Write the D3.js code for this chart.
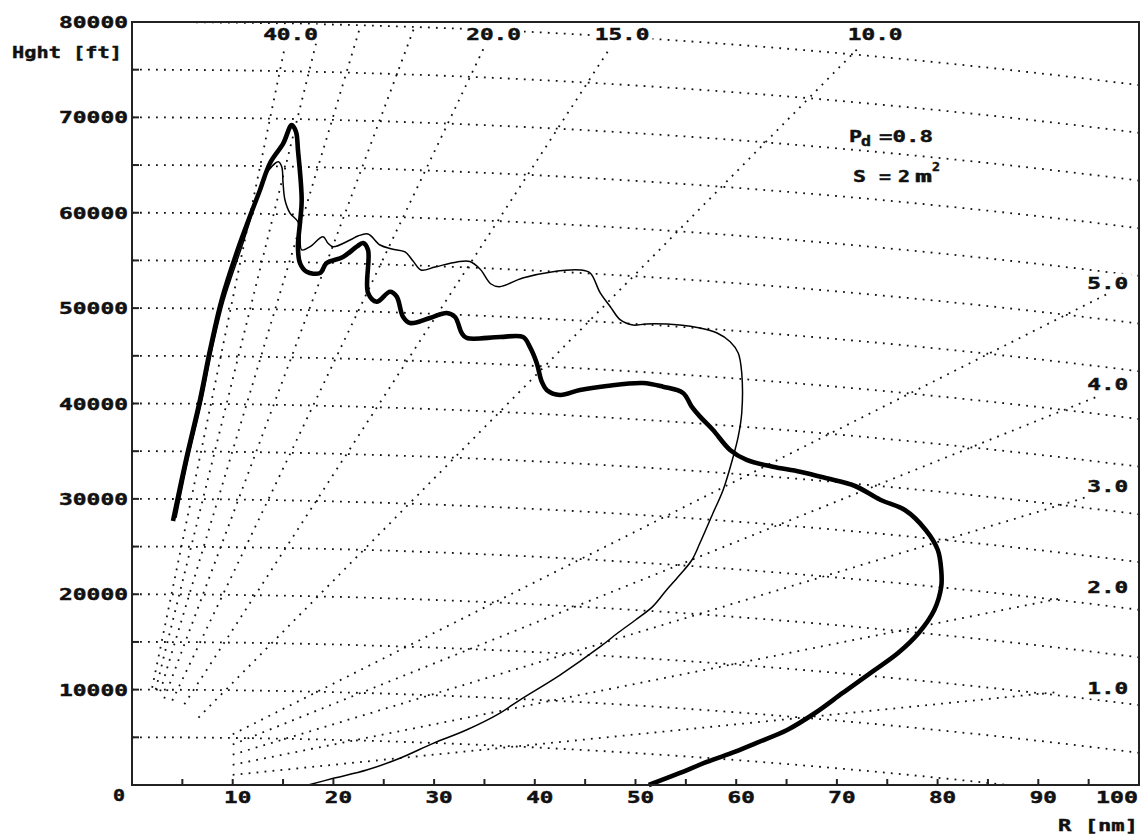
<!DOCTYPE html>
<html>
<head>
<meta charset="utf-8">
<script src="https://cdn.jsdelivr.net/npm/d3@7"></script>
<style>
  body { margin: 0; background: #fff; }
  text { font-family: "DejaVu Sans Mono", monospace; font-weight: bold; fill: #111; stroke: #111; stroke-width: 0.45px; }
</style>
</head>
<body>
<div id="chart"></div>
<script>
// axis tick labels
const xTickLabels = [10, 20, 30, 40, 50, 60, 70, 80, 90, 100];
const yTickLabels = [10000, 20000, 30000, 40000, 50000, 60000, 70000, 80000];

// constant height grid lines [ft]
const heightLevels = [5000, 10000, 15000, 20000, 25000, 30000, 35000, 40000,
    45000, 50000, 55000, 60000, 65000, 70000, 75000, 80000];

// elevation lines [deg], steep ones run to the top edge
const steepAngles = [40, 35, 30, 25, 20, 15, 10];
const steepStartR = [2.0, 2.35, 2.8, 3.2, 4.0, 5.2, 6.6];
const steepEndH = [77300, 79500, 79500, 79500, 77300, 77300, 77300];
const topLabelAngles = [40, 20, 15, 10];

// low elevation lines, labelled at the right edge
const lowAngles = [1, 2, 3, 4, 5];
const lowStartR = 10;
const lowEndR = [92, 92, 95, 96, 97];

// detection range curves: range [nm], height [ft]
const thickR = [4.07, 5.36, 6.75, 7.75, 8.9, 10.72, 12.71, 13.7, 15.02, 15.86, 16.29, 16.48, 16.85, 16.68,
    16.48, 16.68, 17.35, 18.67, 19.33, 20.95, 22.31, 22.94, 23.44, 23.44, 24.3, 25.62, 26.29, 26.91,
    27.61, 29.59, 31.25, 32.08, 32.74, 33.24, 36.54, 38.83, 39.52, 40.19, 40.69, 41.18, 42.5, 44.49,
    47.14, 50.74, 52.73, 54.72, 55.58, 56.41, 57.7, 59.39, 61.04, 63.65, 66.34, 68.99, 71.8, 74.35,
    76.75, 78.82, 80.02, 80.36, 80.36, 79.67, 78.12, 76.07, 73.32, 70.57, 67.83, 65.06, 61.97, 59.57,
    56.82, 54.42, 51.32];
const thickH = [27680, 34080, 40370, 45610, 50850, 56800, 62390, 65190, 67280, 69200, 68470, 66580, 61340, 58930,
    56410, 54730, 53820, 53680, 54730, 55360, 56440, 56830, 56100, 51590, 50670, 51720, 51200, 49100,
    48440, 48970, 49490, 49070, 47390, 46870, 46970, 46970, 45920, 44250, 42290, 41420, 40890, 41420,
    41840, 42150, 41760, 41100, 39670, 38620, 37220, 35130, 34080, 33370, 32850, 32160, 31350, 29880,
    28830, 26740, 24640, 22540, 20790, 18350, 15940, 13840, 11740, 9650, 7550, 5770, 4400, 3360,
    2310, 1260, 0];

const thinR = [17.5, 20.0, 23.3, 26.6, 29.9, 33.2, 36.5, 38.5, 42.5, 46.5, 48.2, 50.0, 51.7, 53.0, 54.3,
    55.6, 56.4, 57.7, 58.7, 59.7, 60.2, 60.55, 60.55, 60.2, 59.4, 58.1, 56.4, 54.4, 51.1, 49.75, 48.5,
    47.5, 46.5, 45.5, 44.5, 41.8, 38.8, 36.5, 35.65, 34.56, 33.56, 32.27, 30.09, 28.7, 27.91, 27.11,
    25.82, 24.63, 23.44, 22.44, 21.65, 19.96, 19.46, 18.97, 17.68, 16.85, 16.68, 16.48, 15.69, 15.19,
    15.0, 14.87, 14.53, 13.38, 12.91, 11.02, 9.14, 7.94, 6.95, 5.56, 4.37];
const thinH = [0, 700, 1570, 2800, 4370, 5770, 7520, 8910, 11530, 14500, 15910, 17300, 18700, 20340, 21910,
    23590, 25370, 28520, 30930, 34420, 36520, 39000, 43200, 45300, 46480, 47390, 47920, 48230, 48340, 48230, 48760,
    50150, 51590, 53680, 54000, 53820, 53160, 52250, 52530, 54100, 54890, 54840, 54310, 54000, 54940, 55890,
    56200, 56620, 57770, 57560, 57140, 56440, 56800, 57490, 56440, 56100, 57880, 59060, 59970, 61340,
    63120, 64830, 65350, 64170, 63020, 56830, 50850, 45610, 40370, 34080, 28000];

const ftPerNm = 6076;
const effEarthNm = 4 / 3 * 3440;

const margin = { top: 22, right: 4, bottom: 51, left: 132 };
const width = 1143 - margin.left - margin.right;
const height = 836 - margin.top - margin.bottom;

const svg = d3.select("#chart").append("svg")
    .attr("width", 1143)
    .attr("height", 836);

const g = svg.append("g")
    .attr("transform", `translate(${margin.left},${margin.top})`);

const x = d3.scaleLinear().domain([0, 100]).range([0, width]);
const y = d3.scaleLinear().domain([0, 80000]).range([height, 0]);

g.append("clipPath").attr("id", "plot-clip")
    .append("rect").attr("width", width).attr("height", height);

// helpers
const rayH = (r, a) => r * ftPerNm * Math.tan(a * Math.PI / 180);
const dropH = r => r * r / (2 * effEarthNm) * ftPerNm;

const dotted = sel => sel
    .attr("fill", "none")
    .attr("stroke", "#111")
    .attr("stroke-width", 1.8)
    .attr("stroke-dasharray", "1.8,6.2");

const line = d3.line().x(d => x(d[0])).y(d => y(d[1]));

// text with stretched glyphs like the old plotter font
function addText(parent, str, px, py, anchor, len, size) {
    let x0 = px;
    if (anchor === "middle") x0 = px - len / 2;
    if (anchor === "end") x0 = px - len;
    return parent.append("text")
        .attr("x", x0)
        .attr("y", py)
        .attr("font-size", (size || 16.5) + "px")
        .attr("textLength", len)
        .attr("lengthAdjust", "spacingAndGlyphs")
        .text(str);
}

const grid = g.append("g").attr("clip-path", "url(#plot-clip)");

// constant height curves
heightLevels.forEach(h => {
    let pts = d3.range(0, 100.5, 1).map(r => [r, h - dropH(r)]);
    grid.append("path").datum(pts).attr("d", line).call(dotted);
});

// elevation rays
steepAngles.forEach((a, i) => {
    let r1 = steepEndH[i] / (ftPerNm * Math.tan(a * Math.PI / 180));
    let pts = [[steepStartR[i], rayH(steepStartR[i], a)], [r1, steepEndH[i]]];
    grid.append("path").datum(pts).attr("d", line).call(dotted);
});

lowAngles.forEach((a, i) => {
    let pts = [[lowStartR, rayH(lowStartR, a)], [lowEndR[i], rayH(lowEndR[i], a)]];
    grid.append("path").datum(pts).attr("d", line).call(dotted);
});

// angle labels with white background
const labelLayer = g.append("g");

function angleLabel(str, cx, baseline) {
    let len = str.length * 13.7;
    labelLayer.append("rect")
        .attr("x", cx - len / 2 - 3)
        .attr("y", baseline - 15)
        .attr("width", len + 6)
        .attr("height", 19)
        .attr("fill", "#fff");
    addText(labelLayer, str, cx, baseline, "middle", len);
}

topLabelAngles.forEach(a => {
    let r = 78750 / (ftPerNm * Math.tan(a * Math.PI / 180));
    angleLabel(a.toFixed(1), x(r) + 3, 17.5);
});

lowAngles.forEach(a => {
    angleLabel(a.toFixed(1), x(96.9), y(rayH(100, a)) + 10.5);
});

// Pd and S annotation
const note = g.append("g");
addText(note, "P", 849 - margin.left, 142 - margin.top, "start", 13);
addText(note, "d", 861 - margin.left, 146 - margin.top, "start", 10, 14);
addText(note, "=0.8", 879 - margin.left, 142 - margin.top, "start", 54);
addText(note, "S", 853 - margin.left, 182 - margin.top, "start", 13);
addText(note, "=", 879 - margin.left, 182 - margin.top, "start", 12);
addText(note, "2", 898 - margin.left, 182 - margin.top, "start", 12);
addText(note, "m", 915 - margin.left, 182 - margin.top, "start", 17);
addText(note, "2", 932 - margin.left, 171 - margin.top, "start", 8, 12);

// curves
const curve = d3.line()
    .x(d => x(d[0]))
    .y(d => y(d[1]))
    .curve(d3.curveCatmullRom.alpha(0.5));

g.append("path")
    .datum(d3.zip(thinR, thinH))
    .attr("d", curve)
    .attr("fill", "none")
    .attr("stroke", "#000")
    .attr("stroke-width", 1.5);

g.append("path")
    .datum(d3.zip(thickR, thickH))
    .attr("d", curve)
    .attr("fill", "none")
    .attr("stroke", "#000")
    .attr("stroke-width", 4.6)
    .attr("stroke-linejoin", "round");

// frame and ticks
g.append("rect")
    .attr("width", width)
    .attr("height", height)
    .attr("fill", "none")
    .attr("stroke", "#222")
    .attr("stroke-width", 2);

g.selectAll(".xtick")
    .data(d3.range(5, 100, 5))
    .enter().append("line")
    .attr("class", "xtick")
    .attr("x1", d => x(d)).attr("x2", d => x(d))
    .attr("y1", height).attr("y2", height - 6)
    .attr("stroke", "#222").attr("stroke-width", 2);

g.selectAll(".ytick")
    .data(d3.range(5000, 80000, 5000))
    .enter().append("line")
    .attr("class", "ytick")
    .attr("x1", 0).attr("x2", 7)
    .attr("y1", d => y(d)).attr("y2", d => y(d))
    .attr("stroke", "#222").attr("stroke-width", 2);

// tick labels
xTickLabels.forEach(v => {
    let s = String(v);
    if (v === 100) addText(g, s, width - 1, height + 18, "end", 42);
    else addText(g, s, x(v) + 5, height + 18, "middle", s.length * 13.6);
});
addText(g, "0", 119 - margin.left, height + 16, "middle", 12);

yTickLabels.forEach(v => {
    let s = String(v);
    addText(g, s, -4, y(v) + 6, "end", 69);
});

// axis titles
addText(g, "Hght [ft]", 12 - margin.left, 58 - margin.top, "start", 110);
addText(g, "R [nm]", 1058 - margin.left, 831 - margin.top, "start", 80);
</script>
</body>
</html>
